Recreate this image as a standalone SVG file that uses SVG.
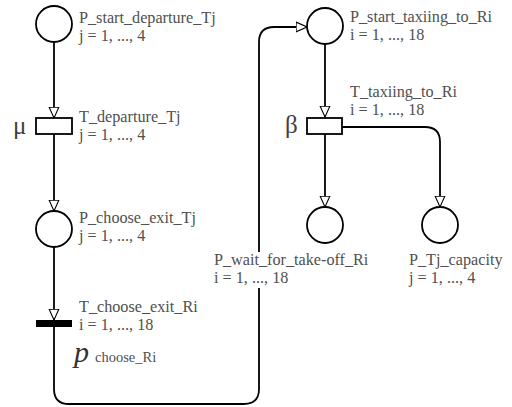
<svg xmlns="http://www.w3.org/2000/svg" width="512" height="407" viewBox="0 0 512 407">
<style>
.pl{fill:#fff;stroke:#000;stroke-width:1.8}
.tr{fill:#fff;stroke:#000;stroke-width:1.8}
.ar{fill:none;stroke:#000;stroke-width:1.8}
.lb{font-family:"Liberation Serif",serif;font-size:16.2px;fill:#505050}
.gk{font-family:"Liberation Serif",serif;font-size:25px;fill:#404040}
</style>
<defs>
<marker id="ah" markerWidth="12" markerHeight="12" refX="10" refY="5" orient="auto" markerUnits="userSpaceOnUse" viewBox="0 0 11 10">
<path d="M0,0.5 L10,5 L0,9.5 Z" fill="#fff" stroke="#000" stroke-width="1"/>
</marker>
</defs>
<rect width="512" height="407" fill="#fff"/>
<g id="connectors">
<path class="ar" d="M54,43 V118" marker-end="url(#ah)"/>
<path class="ar" d="M54,134 V211" marker-end="url(#ah)"/>
<path class="ar" d="M54,247 V320" marker-end="url(#ah)"/>
<path class="ar" d="M54,327 V389 Q54,404 69,404 H244 Q259,404 259,389 V42 Q259,27 274,27 H307" marker-end="url(#ah)"/>
<path class="ar" d="M325,44 V117" marker-end="url(#ah)"/>
<path class="ar" d="M325,134 V207" marker-end="url(#ah)"/>
<path class="ar" d="M342,127 H425 Q440,127 440,142 V207" marker-end="url(#ah)"/>
</g>
<g id="P_start_departure_Tj">
<circle class="pl" cx="54" cy="24" r="18"/>
<text class="lb" x="79" y="23">P_start_departure_Tj</text>
<text class="lb" x="79" y="41">j = 1, ..., 4</text>
</g>
<g id="T_departure_Tj">
<rect class="tr" x="36" y="118" width="36" height="16"/>
<text class="gk" x="13" y="134">μ</text>
<text class="lb" x="79" y="122">T_departure_Tj</text>
<text class="lb" x="79" y="140">j = 1, ..., 4</text>
</g>
<g id="P_choose_exit_Tj">
<circle class="pl" cx="54" cy="229" r="18"/>
<text class="lb" x="79" y="223">P_choose_exit_Tj</text>
<text class="lb" x="79" y="241">j = 1, ..., 4</text>
</g>
<g id="T_choose_exit_Ri">
<rect x="36" y="320" width="36" height="7" fill="#000"/>
<text class="lb" x="79" y="312">T_choose_exit_Ri</text>
<text class="lb" x="79" y="330">i = 1, ..., 18</text>
<text x="74" y="362" font-family="Liberation Serif,serif" font-style="italic" font-size="30" fill="#333">p</text>
<text x="95" y="362" font-family="Liberation Serif,serif" font-size="14.5" fill="#505050">choose_Ri</text>
</g>
<g id="P_start_taxiing_to_Ri">
<circle class="pl" cx="325" cy="26" r="18"/>
<text class="lb" x="350" y="22">P_start_taxiing_to_Ri</text>
<text class="lb" x="350" y="40">i = 1, ..., 18</text>
</g>
<g id="T_taxiing_to_Ri">
<rect class="tr" x="307" y="118" width="35" height="16"/>
<text class="gk" x="285" y="133">β</text>
<text class="lb" x="350" y="97">T_taxiing_to_Ri</text>
<text class="lb" x="350" y="115">i = 1, ..., 18</text>
</g>
<g id="P_wait_for_take-off_Ri">
<circle class="pl" cx="325" cy="225" r="18"/>
<rect x="212" y="252" width="100" height="36" fill="#fff"/>
<text class="lb" x="214" y="265">P_wait_for_take-off_Ri</text>
<text class="lb" x="214" y="283">i = 1, ..., 18</text>
</g>
<g id="P_Tj_capacity">
<circle class="pl" cx="440" cy="225" r="18"/>
<text class="lb" x="409" y="265">P_Tj_capacity</text>
<text class="lb" x="409" y="283">j = 1, ..., 4</text>
</g>
</svg>
